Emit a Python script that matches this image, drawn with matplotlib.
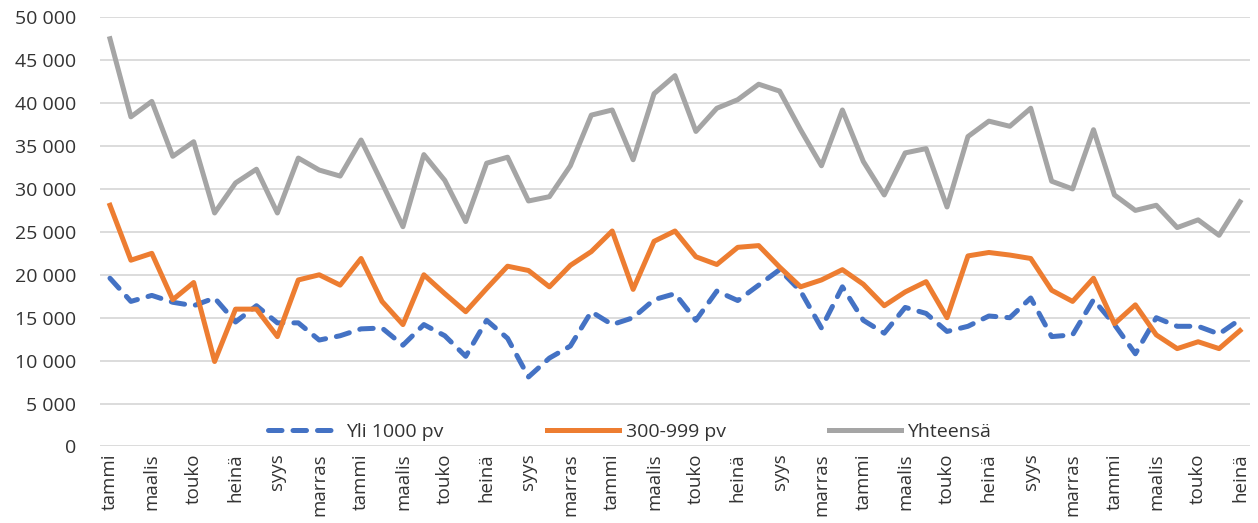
"""
Pitkäaikaistyöttömät kuukausittain: yli 1000 pv, 300-999 pv ja yhteensä.
"""

import matplotlib
matplotlib.use("Agg")
import matplotlib.pyplot as plt
from matplotlib.ticker import FuncFormatter


tick_months = ["tammi", "maalis", "touko", "heinä", "syys", "marras"] * 4 + ["tammi", "maalis", "touko", "heinä"]

yli_1000 = [
	19600, 16900, 17600, 16800, 16400, 17300, 14500, 16400, 14400, 14400,
	12400, 12900, 13700, 13800, 11800, 14200, 12900, 10500, 14700, 12600,
	8100, 10300, 11700, 15700, 14200, 15000, 17100, 17800, 14700, 18100,
	17000, 18800, 20600, 18100, 13800, 18600, 14700, 13200, 16200, 15500,
	13400, 14000, 15200, 15000, 17300, 12800, 13000, 17100, 14200, 10800,
	15000, 14000, 14000, 13100, 14800,
]
v300_999 = [
	28100, 21700, 22500, 17100, 19100, 9900, 16000, 16000, 12800, 19400,
	20000, 18800, 21900, 16900, 14200, 20000, 17800, 15700, 18400, 21000,
	20500, 18600, 21100, 22700, 25100, 18300, 23900, 25100, 22100, 21200,
	23200, 23400, 20900, 18600, 19400, 20600, 18900, 16400, 18000, 19200,
	15000, 22200, 22600, 22300, 21900, 18200, 16900, 19600, 14300, 16500,
	13000, 11400, 12200, 11400, 13500,
]
yhteensa = [
	47500, 38400, 40200, 33800, 35500, 27200, 30700, 32300, 27200, 33600,
	32200, 31500, 35700, 30700, 25600, 34000, 31000, 26200, 33000, 33700,
	28600, 29100, 32700, 38600, 39200, 33400, 41100, 43200, 36700, 39400,
	40400, 42200, 41400, 36900, 32700, 39200, 33200, 29300, 34200, 34700,
	27900, 36100, 37900, 37300, 39400, 30900, 30000, 36900, 29300, 27500,
	28100, 25500, 26400, 24600, 28500,
]

BLUE = "#4472C4"
ORANGE = "#ED7D31"
GRAY = "#A5A5A5"
TEXT = "#333333"
FS = 14


def build_plot():
	plt.rcParams["font.family"] = ["Open Sans", "DejaVu Sans"]
	fig = plt.figure(figsize=(12.58, 5.23), dpi=100)
	ax = fig.add_axes([0.0791, 0.1463, 0.9149, 0.8207])

	x = list(range(len(yhteensa)))
	ax.plot(x, yli_1000, color=BLUE, lw=3.6, dashes=(2.7, 2.2),
			dash_capstyle="round", solid_joinstyle="round", label="Yli 1000 pv", zorder=3)
	ax.plot(x, v300_999, color=ORANGE, lw=3.6, solid_joinstyle="round",
			label="300-999 pv", zorder=3)
	ax.plot(x, yhteensa, color=GRAY, lw=3.6, solid_joinstyle="round",
			label="Yhteensä", zorder=3)

	ax.set_xlim(-0.5, len(x) - 0.5)
	ax.set_ylim(0, 50000)
	ax.set_yticks(range(0, 50001, 5000))
	ax.yaxis.set_major_formatter(FuncFormatter(lambda v, _: f"{int(v):,}".replace(",", " ")))
	ax.set_xticks(range(0, len(x), 2))
	ax.set_xticklabels(tick_months, rotation=90)

	ax.grid(axis="y", color="#D9D9D9", lw=1.3, zorder=0)
	for s in ax.spines.values():
		s.set_visible(False)
	ax.tick_params(axis="y", length=0, pad=17, labelsize=FS, labelcolor=TEXT)
	ax.tick_params(axis="x", length=0, pad=5, labelsize=13.5, labelcolor=TEXT)

	# legenda kuvan sisällä, nollaviivan yläpuolella
	ax.legend(loc="center left", bbox_to_anchor=((258 - 99.5) / 1151, 0.034), ncol=3,
			frameon=False, fontsize=FS, borderpad=0, handlelength=3.7,
			columnspacing=5.3, handletextpad=0.35, labelcolor=TEXT)
	return fig


if __name__ == "__main__":
	fig = build_plot()
	fig.savefig("out.png", dpi=100)
